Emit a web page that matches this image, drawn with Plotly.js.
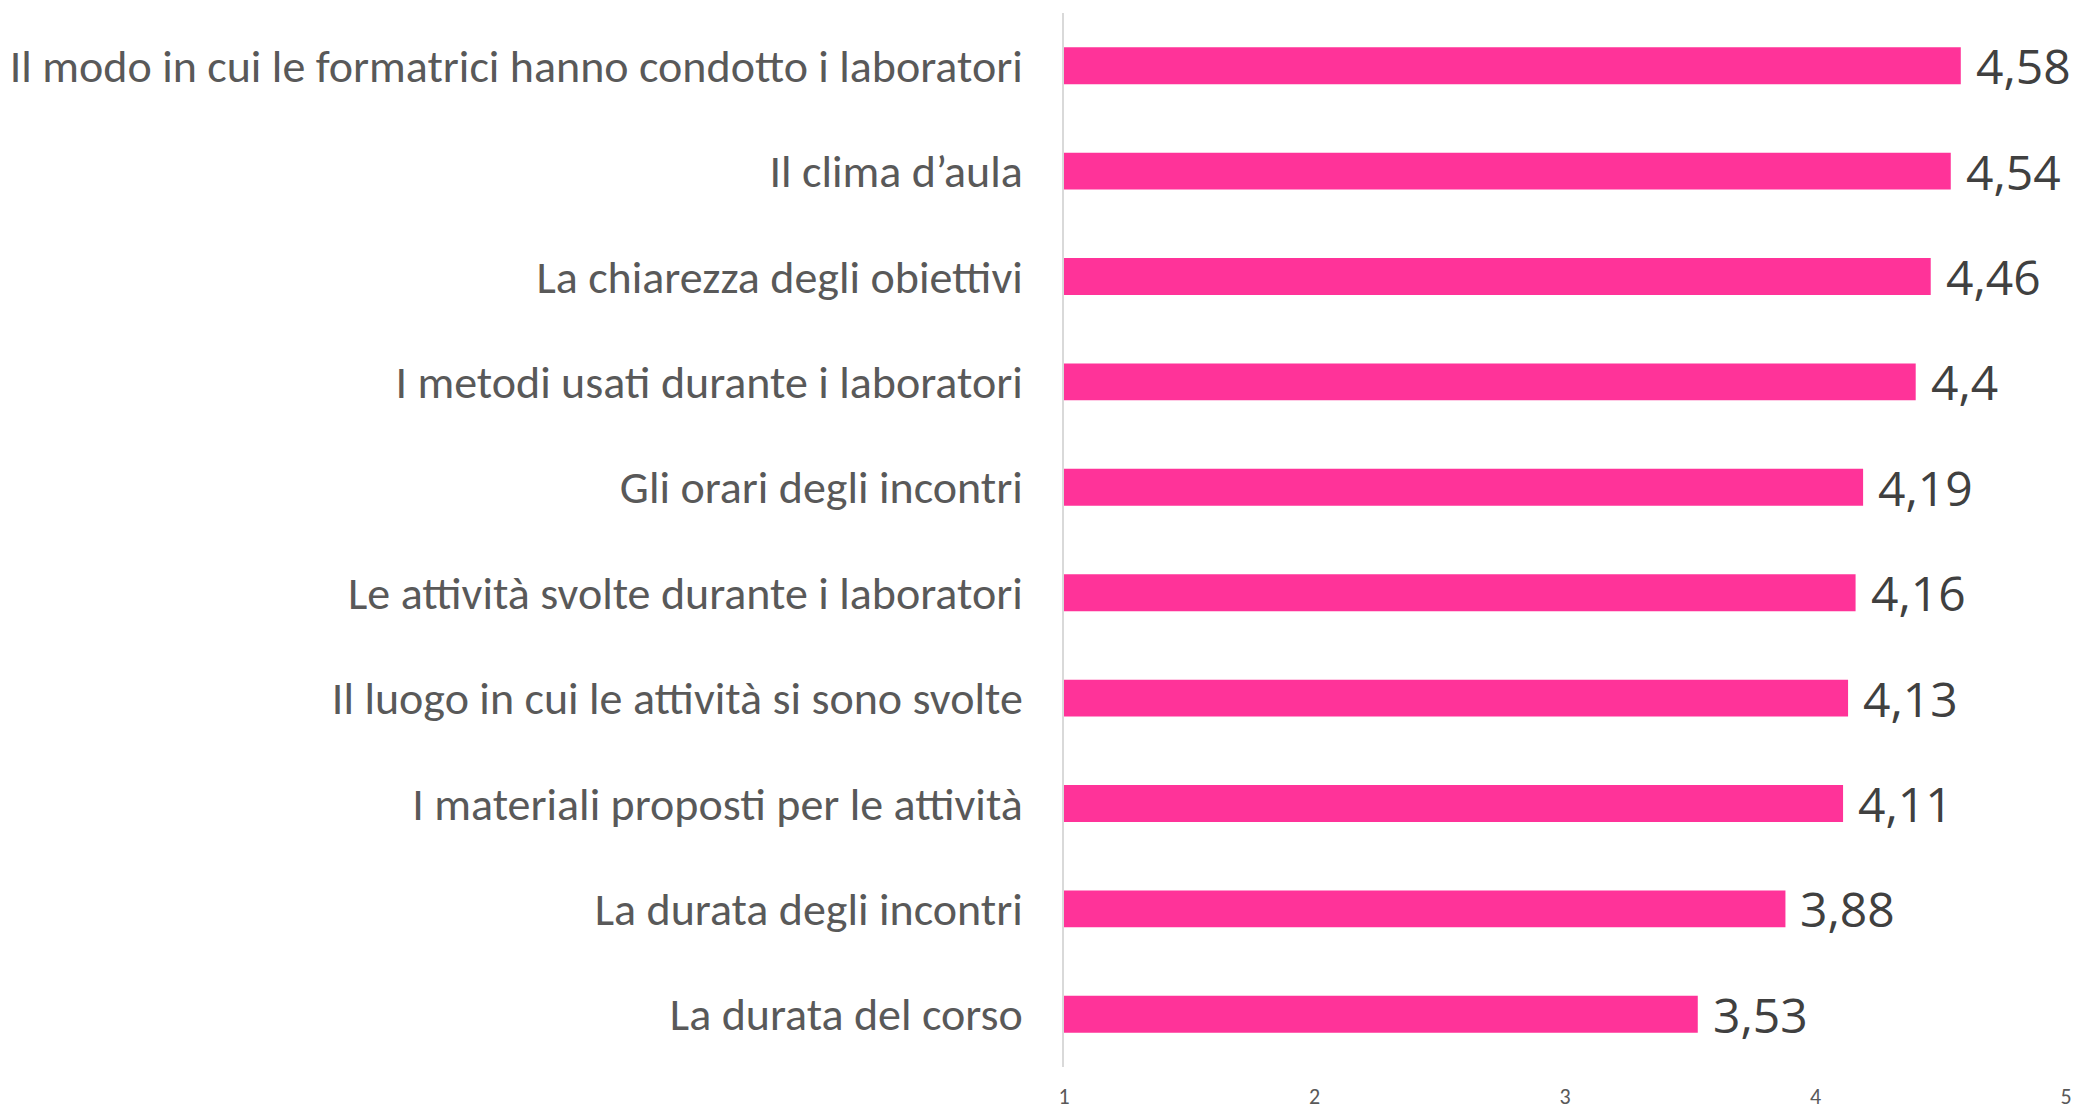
<!DOCTYPE html>
<html>
<head>
<meta charset="utf-8">
<script src="https://cdn.plot.ly/plotly-3.0.1.min.js"></script>
<style>html,body{margin:0;padding:0;background:#fff;}#chart{width:2086px;height:1109px;}</style>
</head>
<body>
<div id="chart"></div>
<script>
const categories = [
  "Il modo in cui le formatrici hanno condotto i laboratori",
  "Il clima d\u2019aula",
  "La chiarezza degli obiettivi",
  "I metodi usati durante i laboratori",
  "Gli orari degli incontri",
  "Le attivit\u00e0 svolte durante i laboratori",
  "Il luogo in cui le attivit\u00e0 si sono svolte",
  "I materiali proposti per le attivit\u00e0",
  "La durata degli incontri",
  "La durata del corso"
];
const values = [4.58, 4.54, 4.46, 4.4, 4.19, 4.16, 4.13, 4.11, 3.88, 3.53];
const xTicks = [1, 2, 3, 4, 5];

const labelFont = 'Carlito, Lato, sans-serif';
const fmt = v => String(v).replace('.', ',');

const trace = {
  type: 'bar',
  orientation: 'h',
  x: values,
  y: categories,
  marker: {color: '#FF3399'},
  hoverinfo: 'skip'
};

const annotations = values.map((v, i) => ({
  x: v, y: categories[i], xref: 'x', yref: 'y',
  text: fmt(v), showarrow: false, xanchor: 'left', yanchor: 'middle',
  xshift: 13, yshift: 0,
  font: {family: '"Open Sans", sans-serif', size: 48, color: '#404040'}
}));

const layout = {
  width: 2086, height: 1109,
  margin: {l: 1064, r: 20, t: 13, b: 42},
  paper_bgcolor: '#ffffff', plot_bgcolor: '#ffffff',
  showlegend: false,
  bargap: 0.65,
  xaxis: {
    range: [1, 5], tickvals: xTicks, ticktext: xTicks.map(String),
    showgrid: false, zeroline: false, showline: false,
    ticks: '', ticklabelstandoff: 14,
    tickfont: {family: labelFont, size: 22, color: '#595959'},
    fixedrange: true
  },
  yaxis: {
    autorange: 'reversed', type: 'category',
    showgrid: false, zeroline: false,
    showline: true, linecolor: '#D9D9D9', linewidth: 2,
    ticks: '', ticklabelstandoff: 30,
    tickfont: {family: labelFont, size: 46, color: '#595959'},
    fixedrange: true
  },
  annotations: annotations
};

Plotly.newPlot('chart', [trace], layout, {displayModeBar: false, staticPlot: true});
</script>
</body>
</html>
